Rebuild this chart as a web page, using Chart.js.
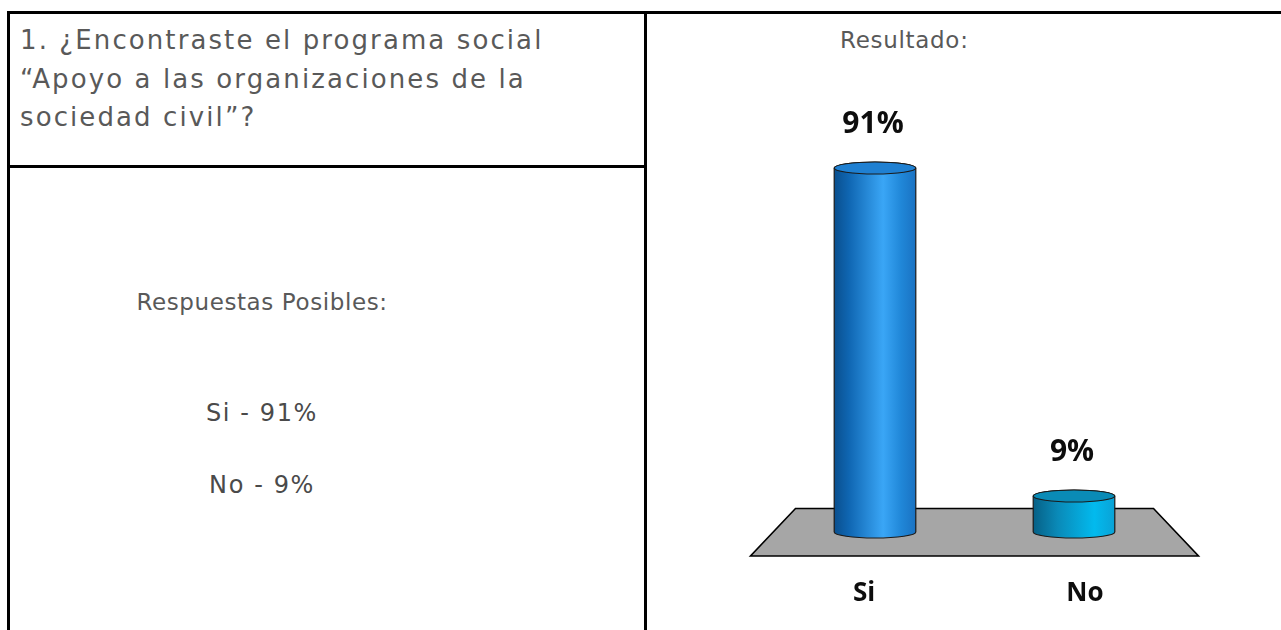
<!DOCTYPE html>
<html lang="es">
<head>
<meta charset="utf-8">
<title>Resultado</title>
<script src="https://cdn.jsdelivr.net/npm/chart.js@4/dist/chart.umd.min.js"></script>
<style>
  html, body {
    margin: 0;
    padding: 0;
    background: #ffffff;
    width: 1281px;
    height: 630px;
    overflow: hidden;
  }
  .cell {
    position: absolute;
    box-sizing: border-box;
    border: 3px solid #000;
  }
  .txt {
    position: absolute;
    font-family: "DejaVu Sans", sans-serif;
    color: #595959;
    white-space: nowrap;
  }
  #question {
    left: 20px;
    top: 21px;
    font-size: 26px;
    line-height: 38.5px;
    letter-spacing: 2.1px;
  }
  #resultTitle {
    left: 840px;
    top: 25px;
    font-size: 23px;
    line-height: 30px;
    letter-spacing: 0.7px;
  }
  #answers {
    left: 62px;
    width: 400px;
    text-align: center;
  }
  #answers div {
    position: absolute;
    left: 0;
    width: 400px;
  }
  #answersTitle {
    top: 287px;
    font-size: 23px;
    line-height: 30px;
    letter-spacing: 0.6px;
  }
  .answer {
    font-size: 24px;
    line-height: 30px;
    letter-spacing: 1.6px;
    color: #4a4a4a;
  }
  #chartBox {
    position: absolute;
    left: 700px;
    top: 90px;
    width: 560px;
    height: 530px;
  }
</style>
</head>
<body>

<!-- table frame -->
<div class="cell" style="left:7px; top:11px; width:640px; height:157px;"></div>
<div class="cell" style="left:7px; top:165px; width:640px; height:520px;"></div>
<div class="cell" style="left:644px; top:11px; width:700px; height:700px;"></div>

<div class="txt" id="question">1. ¿Encontraste el programa social<br>“Apoyo a las organizaciones de la<br>sociedad civil”?</div>
<div class="txt" id="resultTitle">Resultado:</div>

<div class="txt" id="answers">
  <div id="answersTitle">Respuestas Posibles:</div>
  <div class="answer" style="top:398px;">Si - 91%</div>
  <div class="answer" style="top:470px;">No - 9%</div>
</div>

<div id="chartBox"><canvas id="resultChart"></canvas></div>

<script>
// survey answers
const categories = ['Si', 'No'];
const percentages = [91, 9];

// cylinder shading, one palette per answer
const bodyStops = [
    [[0, '#0a4f8e'], [0.18, '#0f66b2'], [0.6, '#3aa6f6'], [0.82, '#2087d8'], [1, '#1a72c2']],
    [[0, '#066086'], [0.3, '#0a8ab8'], [0.75, '#02baee'], [1, '#0aa2d6']]
];
const capColors = ['#1f80d2', '#0a8bb6'];

const FLOOR_DEPTH = 23.5;
const CAP_RY = 6;

function drawFloor(chart) {
    const ctx = chart.ctx;
    const a = chart.chartArea;
    const base = chart.scales.y.getPixelForValue(0);

    ctx.save();
    ctx.beginPath();
    ctx.moveTo(a.left + 20, base - FLOOR_DEPTH);
    ctx.lineTo(a.right - 20, base - FLOOR_DEPTH);
    ctx.lineTo(a.right + 25, base + FLOOR_DEPTH + 0.5);
    ctx.lineTo(a.left - 25, base + FLOOR_DEPTH + 0.5);
    ctx.closePath();
    ctx.fillStyle = '#a6a6a6';
    ctx.fill();
    ctx.lineWidth = 1.6;
    ctx.strokeStyle = '#000';
    ctx.stroke();
    ctx.restore();
}

function drawCylinder(ctx, bar, i) {
    const rx = bar.width / 2;
    const left = bar.x - rx;
    const right = bar.x + rx;

    const grad = ctx.createLinearGradient(left, 0, right, 0);
    bodyStops[i].forEach(function(s) { grad.addColorStop(s[0], s[1]); });

    ctx.save();
    ctx.lineWidth = 1.2;
    ctx.strokeStyle = '#1b1b1b';

    // side wall with rounded bottom
    ctx.beginPath();
    ctx.moveTo(left, bar.y);
    ctx.lineTo(left, bar.base);
    ctx.ellipse(bar.x, bar.base, rx, CAP_RY, 0, Math.PI, 0, true);
    ctx.lineTo(right, bar.y);
    ctx.ellipse(bar.x, bar.y, rx, CAP_RY, 0, 0, Math.PI, true);
    ctx.closePath();
    ctx.fillStyle = grad;
    ctx.fill();
    ctx.stroke();

    // top cap
    ctx.beginPath();
    ctx.ellipse(bar.x, bar.y, rx, CAP_RY, 0, 0, Math.PI * 2);
    ctx.fillStyle = capColors[i];
    ctx.fill();
    ctx.stroke();
    ctx.restore();
}

const cylinderPlugin = {
    id: 'cylinders',
    beforeDatasetsDraw: function(chart) {
        drawFloor(chart);
    },
    afterDatasetsDraw: function(chart) {
        const ctx = chart.ctx;
        const a = chart.chartArea;
        const mid = (a.left + a.right) / 2;
        const bars = chart.getDatasetMeta(0).data;

        bars.forEach(function(bar, i) {
            drawCylinder(ctx, bar, i);
        });

        ctx.save();
        ctx.fillStyle = '#0d0d0d';
        ctx.textAlign = 'center';
        ctx.textBaseline = 'middle';

        // value above each cylinder
        ctx.font = 'bold 30px "Open Sans", sans-serif';
        bars.forEach(function(bar, i) {
            ctx.fillText(percentages[i] + '%', bar.x - 2, bar.y - 44);
        });

        // answer names along the front of the floor
        ctx.font = 'bold 26px "Open Sans", sans-serif';
        bars.forEach(function(bar, i) {
            const x = mid + (bar.x - mid) * 1.11;
            ctx.fillText(categories[i], x, bar.base + 62);
        });
        ctx.restore();
    }
};

new Chart(document.getElementById('resultChart'), {
    type: 'bar',
    data: {
        labels: categories,
        datasets: [{
            data: percentages,
            backgroundColor: 'rgba(0,0,0,0)',
            borderWidth: 0,
            categoryPercentage: 1,
            barPercentage: 0.41
        }]
    },
    options: {
        responsive: true,
        maintainAspectRatio: false,
        animation: false,
        layout: {
            padding: { left: 75.5, right: 86.5, top: 42, bottom: 88 }
        },
        plugins: {
            legend: { display: false },
            tooltip: { enabled: false }
        },
        scales: {
            x: { display: false },
            y: { display: false, min: 0, max: 100 }
        }
    },
    plugins: [cylinderPlugin]
});
</script>
</body>
</html>
